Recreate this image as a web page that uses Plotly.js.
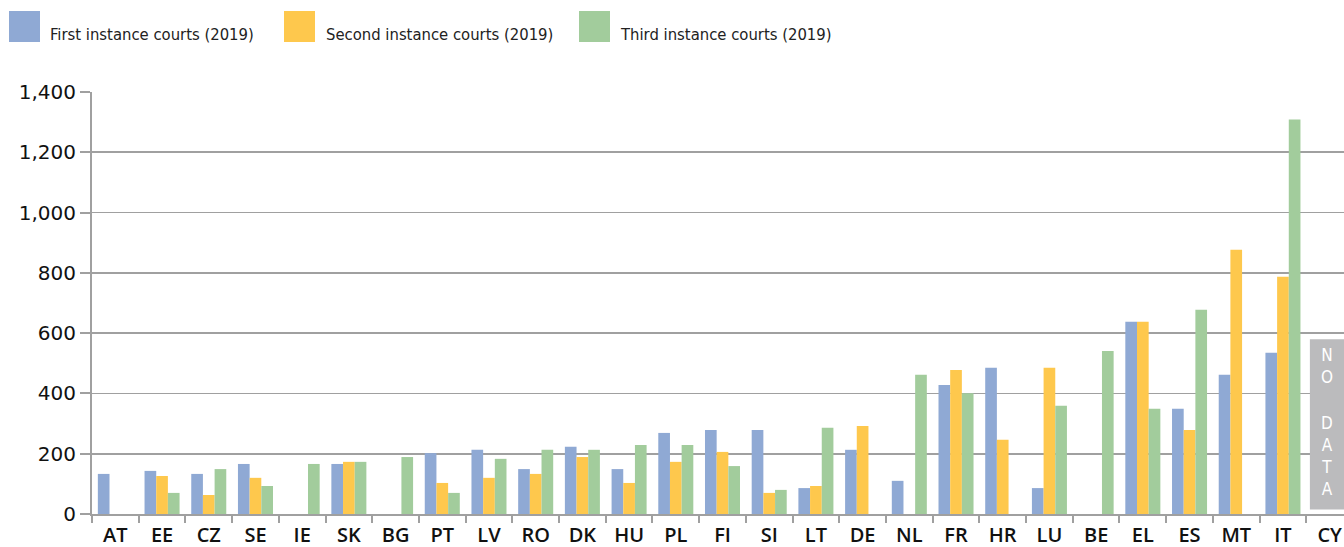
<!DOCTYPE html>
<html>
<head>
<meta charset="utf-8">
<script src="https://cdn.plot.ly/plotly-3.0.1.min.js"></script>
<style>
html,body{margin:0;padding:0;background:#fff;overflow:hidden;}
#chart{width:1353px;height:547px;}
</style>
</head>
<body>
<div id="chart"></div>
<script>
const categories = ["AT","EE","CZ","SE","IE","SK","BG","PT","LV","RO","DK","HU","PL","FI","SI","LT","DE","NL","FR","HR","LU","BE","EL","ES","MT","IT","CY"];
const firstInstance  = [133,143,133,166,null,166,null,202,213,149,223,149,269,279,279,86,213,110,428,485,86,null,638,349,462,535,null];
const secondInstance = [null,126,63,120,null,173,null,103,120,133,189,103,173,206,70,93,292,null,478,246,485,null,638,279,877,787,null];
const thirdInstance  = [null,70,149,93,166,173,189,70,183,213,213,229,229,159,80,286,null,462,401,null,359,541,349,678,null,1309,null];
const seriesNames = ["First instance courts (2019)","Second instance courts (2019)","Third instance courts (2019)"];
const seriesColors = ["#8FA9D4","#FEC84D","#A2CC9C"];
const noDataParts = ["N<br>O","D<br>A<br>T<br>A"];
const noDataPartY = [491,192];

const W = 1353, H = 547;
const M = {l:92, r:0, t:92, b:33};
const pw = W - M.l - M.r, ph = H - M.t - M.b;
const px = x => (x - M.l) / pw;
const py = y => (H - M.b - y) / ph;

const traces = [firstInstance, secondInstance, thirdInstance].map((vals, i) => ({
  type: "bar",
  x: categories,
  y: vals,
  name: seriesNames[i],
  marker: {color: seriesColors[i], line: {width: 0}},
  hoverinfo: "x+y+name"
}));

const shapes = [];
const annotations = [];
// custom legend
const legendSquareX = [9, 284, 579];
const legendTextX = [48, 324, 618];
for (let i = 0; i < 3; i++) {
  shapes.push({type:"rect", xref:"paper", yref:"paper",
    x0: px(legendSquareX[i]), x1: px(legendSquareX[i] + 31),
    y0: py(42), y1: py(11), fillcolor: seriesColors[i], line:{width:0}});
  annotations.push({xref:"paper", yref:"paper", x: px(legendTextX[i]), y: py(34),
    xanchor:"left", yanchor:"middle", showarrow:false, text: seriesNames[i],
    font:{family:"DejaVu Sans Condensed, DejaVu Sans", size:16.5, color:"#222"}});
}
// NO DATA box for CY
shapes.push({type:"rect", xref:"x", yref:"y", x0: 25.577, x1: 26.42, y0: 15, y1: 580,
  fillcolor:"#BBBBBD", line:{width:0}, layer:"above"});
noDataParts.forEach((t, i) => {
  annotations.push({xref:"x", yref:"y", x: 25.95, y: noDataPartY[i], xanchor:"center", yanchor:"middle",
    showarrow:false, borderpad:0, text: t, font:{family:"DejaVu Sans Condensed, DejaVu Sans", size:17, color:"#FFFFFF"}});
});

const layout = {
  width: W, height: H,
  margin: M,
  paper_bgcolor: "#fff", plot_bgcolor: "#fff",
  showlegend: false,
  barmode: "group",
  bargap: 0.25,
  bargroupgap: 0,
  xaxis: {
    type: "category",
    range: [-0.5, 26.5],
    showline: true, linecolor: "#A0A0A0", linewidth: 2,
    ticks: "outside", tickson: "boundaries", ticklen: 7, tickwidth: 2, tickcolor: "#A0A0A0",
    showgrid: false,
    tickfont: {family: "Open Sans", size: 20, weight: 600, color: "#111"},
    ticklabelstandoff: 2,
    fixedrange: true
  },
  yaxis: {
    range: [0, 1400],
    dtick: 200, tick0: 0,
    tickformat: ",",
    showline: true, linecolor: "#A0A0A0", linewidth: 2,
    ticks: "outside", ticklen: 10, tickwidth: 2, tickcolor: "#A0A0A0",
    showgrid: true, gridcolor: "#A0A0A0", gridwidth: 1.8,
    zeroline: false,
    tickfont: {family: "DejaVu Sans", size: 20, color: "#111"},
    ticklabelstandoff: 0,
    fixedrange: true
  },
  shapes: shapes,
  annotations: annotations
};

Plotly.newPlot("chart", traces, layout, {displayModeBar: false, staticPlot: true});
</script>
</body>
</html>
